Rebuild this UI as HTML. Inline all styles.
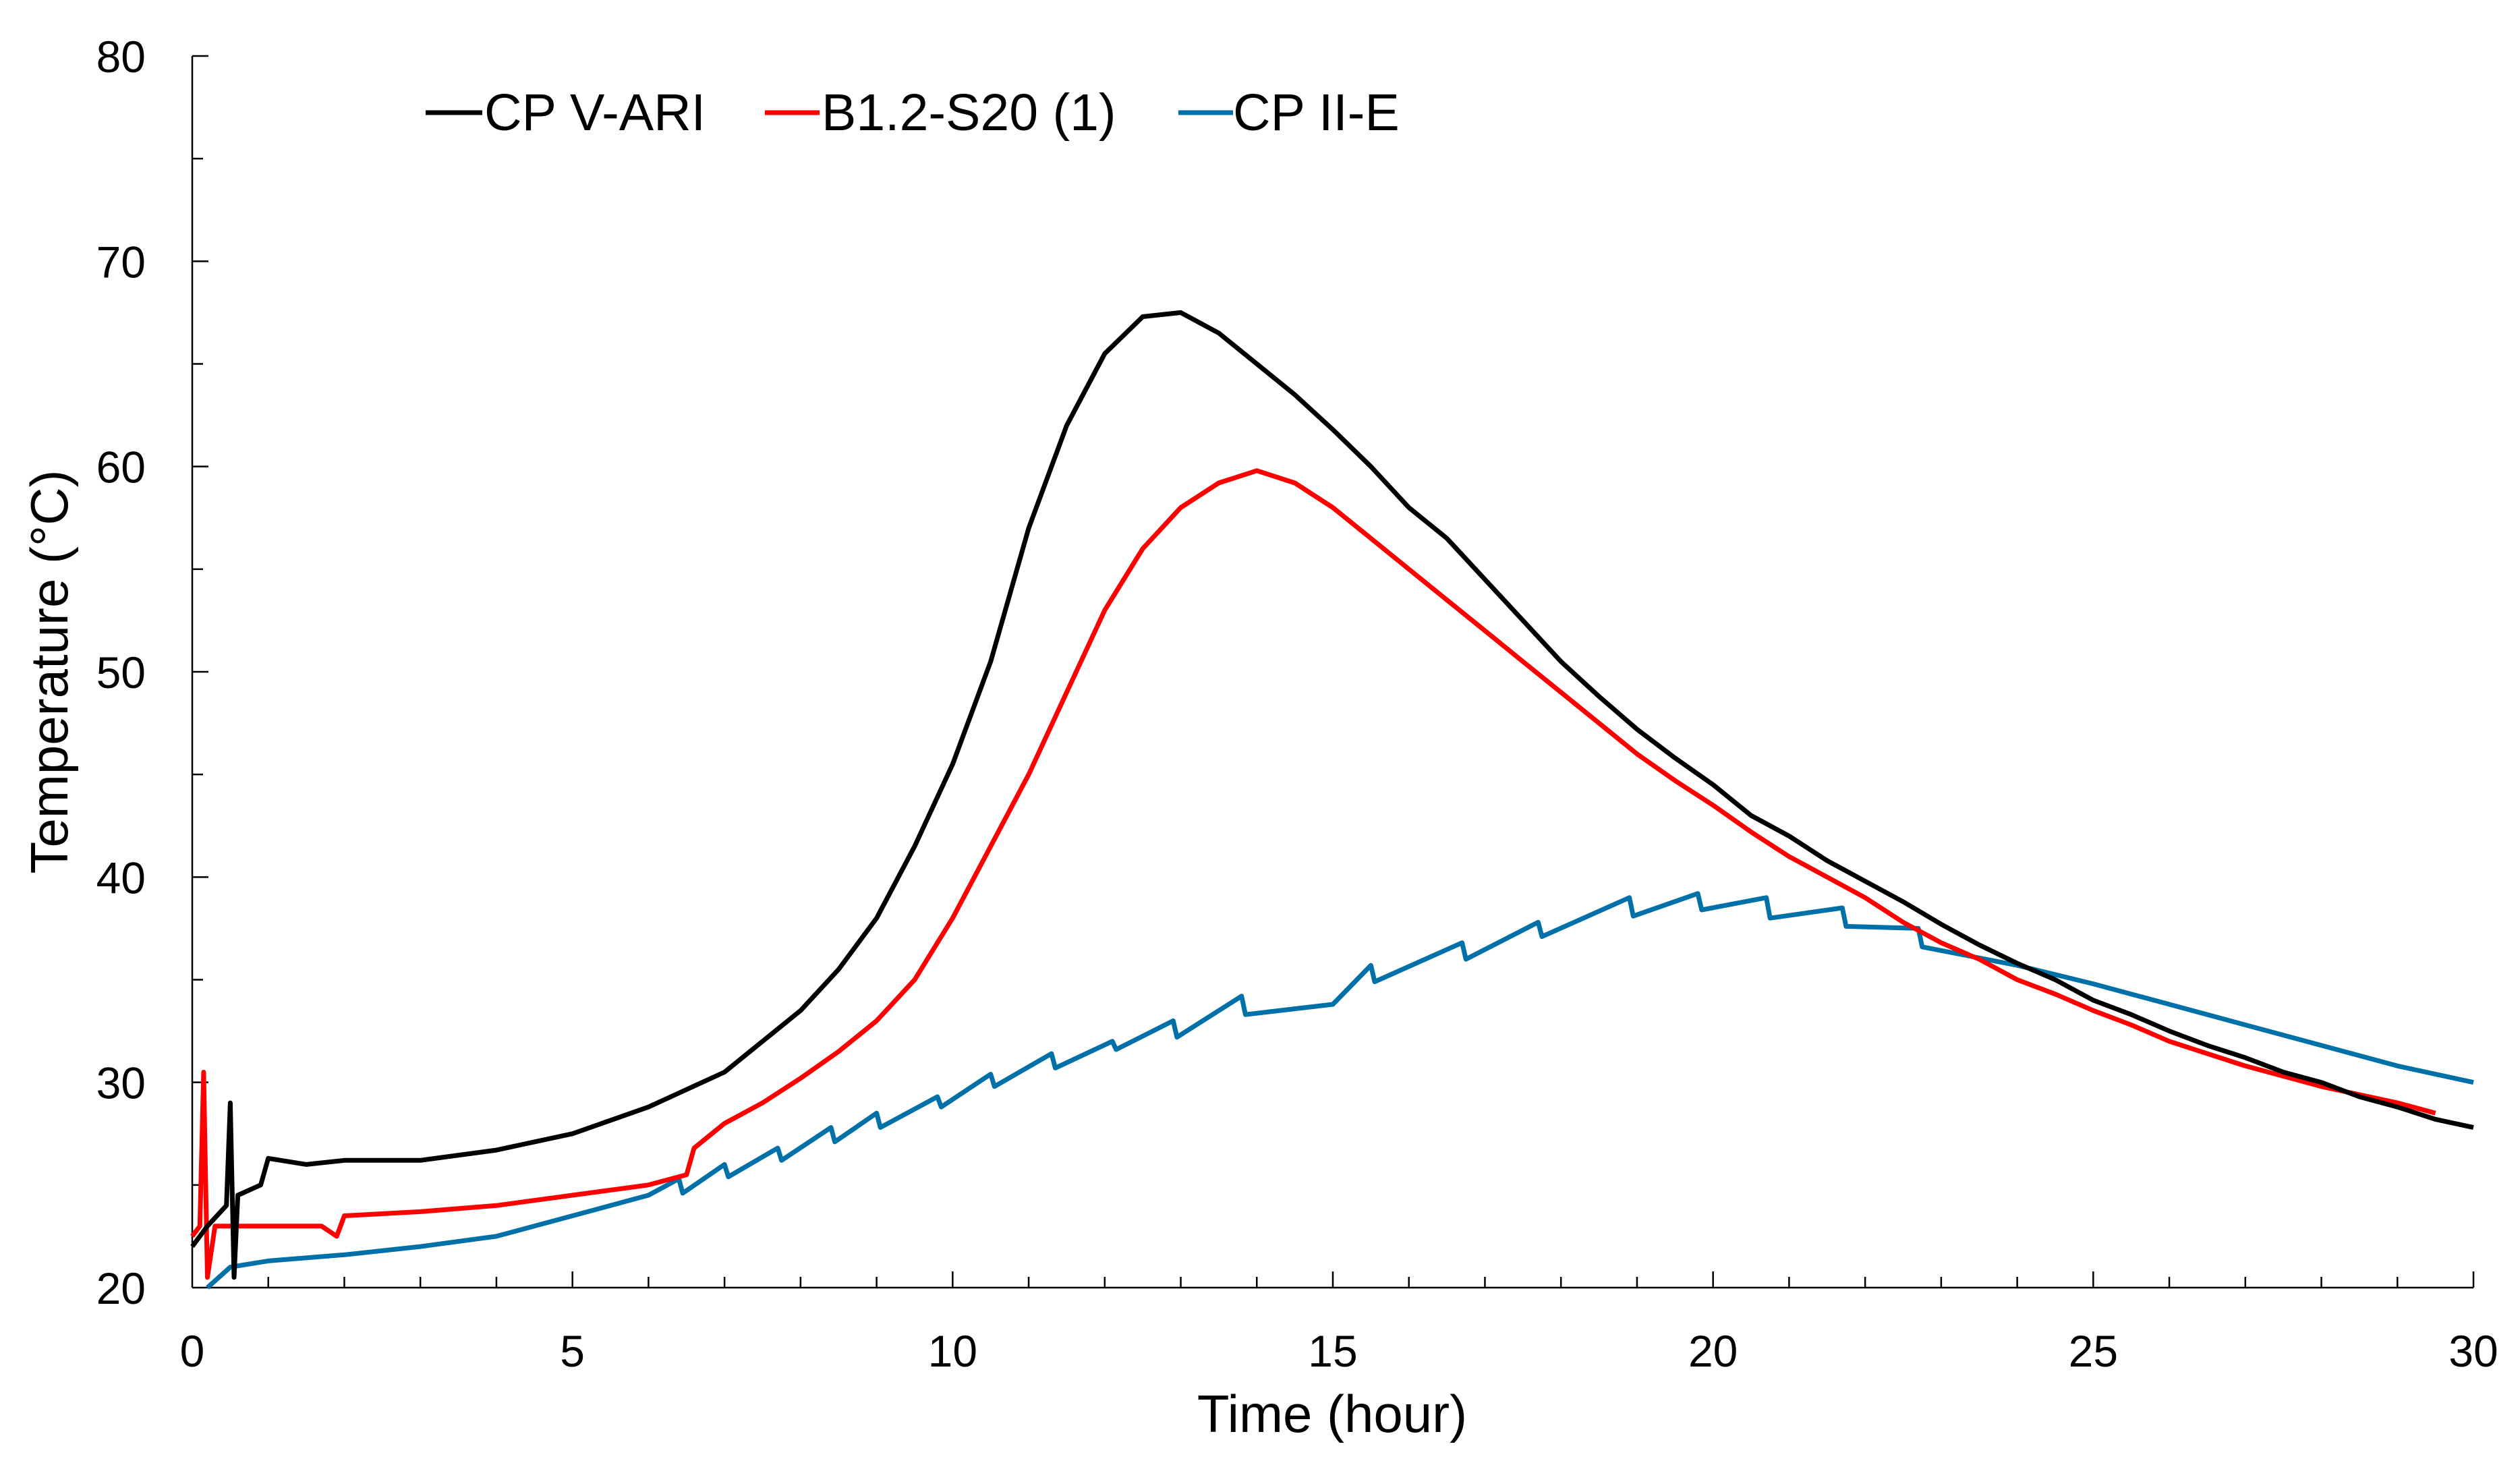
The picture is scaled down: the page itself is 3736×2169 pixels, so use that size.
<!DOCTYPE html>
<html><head><meta charset="utf-8"><style>
html,body{margin:0;padding:0;background:#fff;}
svg{display:block;font-family:"Liberation Sans",Arial,sans-serif;}
</style></head><body>
<svg id="chart" width="3736" height="2169" viewBox="0 0 3736 2169">
<g id="axes"></g>
<g id="series"></g>
<g id="legend">
 <line x1="631" y1="167" x2="715" y2="167" stroke="#000" stroke-width="7"/>
 <text x="718" y="193" font-size="77">CP V-ARI</text>
 <line x1="1134" y1="167" x2="1215" y2="167" stroke="#ff0000" stroke-width="7"/>
 <text x="1218" y="193" font-size="77">B1.2-S20 (1)</text>
 <line x1="1747" y1="167" x2="1828" y2="167" stroke="#0070a8" stroke-width="7"/>
 <text x="1828" y="193" font-size="77">CP II-E</text>
</g>
<text x="1975" y="2123" font-size="78" text-anchor="middle">Time (hour)</text>
<text transform="translate(100,996) rotate(-90)" font-size="78" text-anchor="middle">Temperature (°C)</text>
</svg>
<script>
const xTicks=[0,5,10,15,20,25,30];
const yTicks=[20,30,40,50,60,70,80];
const cpvTime=[0,0.2,0.45,0.5,0.55,0.6,0.9,1.0,1.5,2,3,4,5,6,7,7.5,8,8.5,9,9.5,10,10.5,11,11.5,12,12.5,13,13.5,14,14.5,15,15.5,16,16.5,17,17.5,18,18.5,19,19.5,20,20.5,21,21.5,22,22.5,23,23.5,24,24.5,25,25.5,26,26.5,27,27.5,28,28.5,29,29.5,30];
const cpvTemp=[22,23,24,29,20.5,24.5,25,26.3,26,26.2,26.2,26.7,27.5,28.8,30.5,32,33.5,35.5,38,41.5,45.5,50.5,57,62,65.5,67.3,67.5,66.5,65,63.5,61.8,60,58,56.5,54.5,52.5,50.5,48.8,47.2,45.8,44.5,43,42,40.8,39.8,38.8,37.7,36.7,35.8,35,34,33.3,32.5,31.8,31.2,30.5,30,29.3,28.8,28.2,27.8];
const b12Time=[0,0.1,0.15,0.2,0.3,1,1.7,1.9,2,3,4,5,6,6.5,6.6,7,7.5,8,8.5,9,9.5,10,10.5,11,11.5,12,12.5,13,13.5,14,14.5,15,15.5,16,16.5,17,17.5,18,18.5,19,19.5,20,20.5,21,21.5,22,22.5,23,23.5,24,24.5,25,25.5,26,26.5,27,27.5,28,28.5,29,29.5];
const b12Temp=[22.5,23,30.5,20.5,23,23,23,22.5,23.5,23.7,24,24.5,25,25.5,26.8,28,29,30.2,31.5,33,35,38,41.5,45,49,53,56,58,59.2,59.8,59.2,58,56.5,55,53.5,52,50.5,49,47.5,46,44.7,43.5,42.2,41,40,39,37.8,36.8,36,35,34.3,33.5,32.8,32,31.4,30.8,30.3,29.8,29.4,29,28.5];
const cp2Time=[0.2,0.5,1,2,3,4,5,6,6.4,6.45,7,7.05,7.7,7.75,8.4,8.45,9,9.05,9.8,9.85,10.5,10.55,11.3,11.35,12.1,12.15,12.9,12.95,13.8,13.85,15,15.5,15.55,16.7,16.75,17.7,17.75,18.9,18.95,19.8,19.85,20.7,20.75,21.7,21.75,22.7,22.75,24,25,26,27,28,29,30];
const cp2Temp=[20,21,21.3,21.6,22,22.5,23.5,24.5,25.3,24.6,26,25.4,26.8,26.2,27.8,27.1,28.5,27.8,29.3,28.8,30.4,29.8,31.4,30.7,32,31.6,33,32.2,34.2,33.3,33.8,35.7,34.9,36.8,36,37.8,37.1,39,38.1,39.2,38.4,39,38,38.5,37.6,37.5,36.6,35.7,34.8,33.8,32.8,31.8,30.8,30];
const NS='http://www.w3.org/2000/svg';
const X0=285,X1=3667,YT=83,YB=1909;
function sx(t){return X0+(t-0)/(30-0)*(X1-X0);}
function sy(v){return YB-(v-20)/(80-20)*(YB-YT);}
const axes=document.getElementById('axes');
function mk(tag,attrs,parent){const e=document.createElementNS(NS,tag);for(const k in attrs)e.setAttribute(k,attrs[k]);parent.appendChild(e);return e;}
let e=mk('line',{x1:X0,y1:YT,x2:X0,y2:YB,stroke:'#000','stroke-width':2.5},axes);


e=mk('line',{x1:X0,y1:YB,x2:X1,y2:YB,stroke:'#000','stroke-width':2.5},axes);


for(let h=1;h<=30;h++){
 const major=h%5===0;
 e=mk('line',{x1:sx(h),y1:YB,x2:sx(h),y2:YB-(major?24:16),stroke:'#000','stroke-width':2.5},axes);
 
 
}
for(let v=25;v<=80;v+=5){
 e=mk('text'==='x'?'text':'line',{x1:X0,y1:sy(v),x2:X0+(v%10===0?24:16),y2:sy(v),stroke:'#000','stroke-width':2.5},axes);
 
 
}
xTicks.forEach(t=>{
 e=mk('text',{x:sx(t),y:2026,'font-size':66,'text-anchor':'middle'},axes);
 e.textContent=t;
 
 
});
yTicks.forEach(v=>{
 e=mk('text',{x:216,y:sy(v)+24,'font-size':66,'text-anchor':'end'},axes);
 e.textContent=v;
 
 
});
const ser=document.getElementById('series');
function draw(ts,vs,color,name){
 const d=ts.map((t,i)=>(i?'L':'M')+sx(t).toFixed(1)+','+sy(vs[i]).toFixed(1)).join(' ');
 const p=mk('path',{d:d,fill:'none',stroke:color,'stroke-width':7,'stroke-linejoin':'round'},ser);
 
 
}
draw(cp2Time,cp2Temp,'#0070a8','line-cp-ii-e');
draw(b12Time,b12Temp,'#ff0000','line-b12-s20');
draw(cpvTime,cpvTemp,'#000000','line-cp-v-ari');
</script>
</body></html>
